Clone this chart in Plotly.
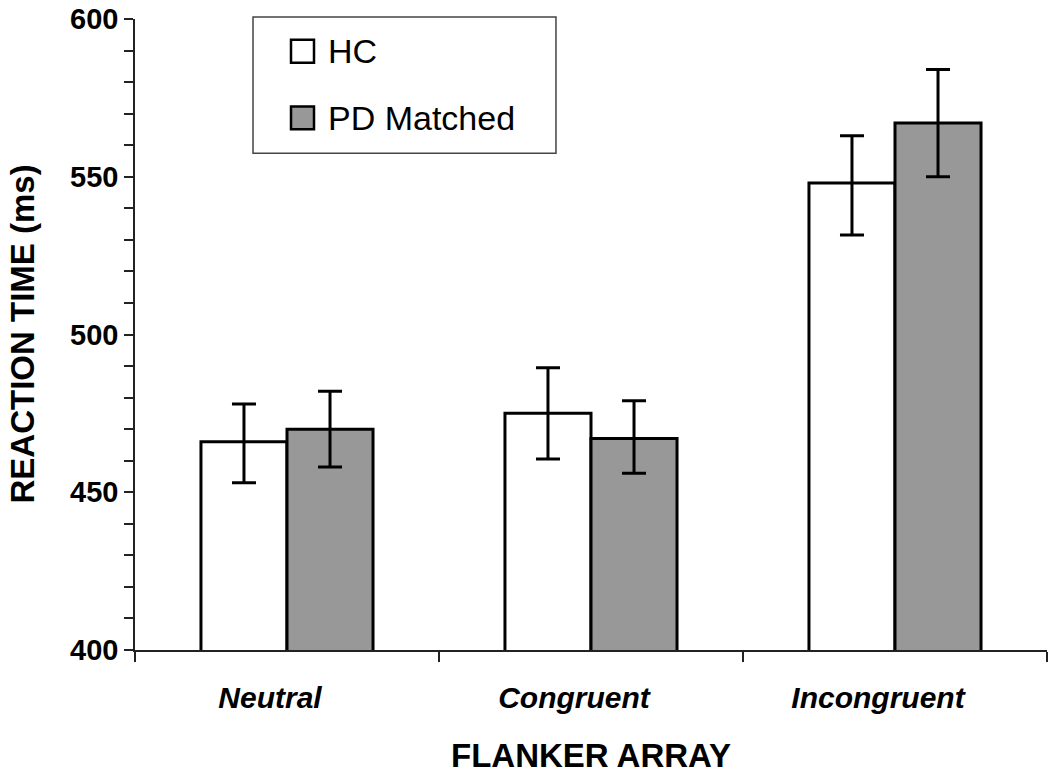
import plotly.graph_objects as go

# ---- data ----
categories = ["Neutral", "Congruent", "Incongruent"]
hc_values = [466, 475, 548]
hc_err_plus = [12, 14.5, 15]
hc_err_minus = [13, 14.5, 16.5]
pd_values = [470, 467, 567]
pd_err_plus = [12, 12, 17]
pd_err_minus = [12, 11, 17]
series_names = ["HC", "PD Matched"]
y_ticks = [400, 450, 500, 550, 600]

FONT = "Liberation Sans, Arial, sans-serif"
GRAY = "#989898"

fig = go.Figure()
fig.add_trace(go.Bar(
    name=series_names[0], x=categories, y=hc_values,
    marker=dict(color="white", line=dict(color="black", width=3)),
    error_y=dict(type="data", symmetric=False, array=hc_err_plus,
                 arrayminus=hc_err_minus, color="black", thickness=3, width=12),
    showlegend=False,
))
fig.add_trace(go.Bar(
    name=series_names[1], x=categories, y=pd_values,
    marker=dict(color=GRAY, line=dict(color="black", width=3)),
    error_y=dict(type="data", symmetric=False, array=pd_err_plus,
                 arrayminus=pd_err_minus, color="black", thickness=3, width=12),
    showlegend=False,
))

# ---- manual legend (box, swatches, labels) ----
fig.add_shape(type="rect", xref="paper", yref="paper",
              x0=0.1294, x1=0.4616, y0=0.7874, y1=1.0031,
              line=dict(color="#444444", width=1.5), fillcolor="white", layer="above")
sw = [(series_names[0], "white", 36), (series_names[1], GRAY, 103)]
for name, col, top in sw:
    y1 = (650 - top) / 635
    y0 = (650 - (top + 23)) / 635
    fig.add_shape(type="rect", xref="paper", yref="paper",
                  x0=(291 - 135) / 912, x1=(314 - 135) / 912, y0=y0, y1=y1,
                  line=dict(color="black", width=2.5), fillcolor=col, layer="above")
    fig.add_annotation(xref="paper", yref="paper",
                       x=(326 - 135) / 912, y=(y0 + y1) / 2,
                       xanchor="left", yanchor="middle", showarrow=False,
                       text=name, font=dict(family=FONT, size=34, color="black"))

# ---- axis titles ----
fig.add_annotation(xref="paper", yref="paper", x=(22 - 135) / 912, y=0.5,
                   xanchor="center", yanchor="middle", textangle=-90, showarrow=False,
                   text="REACTION TIME (ms)",
                   font=dict(family=FONT, size=33, color="black", weight="bold"))
fig.add_annotation(xref="paper", yref="paper", x=0.5, y=(650 - 756) / 635,
                   xanchor="center", yanchor="middle", showarrow=False,
                   text="FLANKER ARRAY",
                   font=dict(family=FONT, size=33, color="black", weight="bold"))

fig.update_layout(
    width=1050, height=773,
    margin=dict(l=135, r=3, t=15, b=123),
    paper_bgcolor="white", plot_bgcolor="white",
    barmode="group", bargap=0.434, bargroupgap=0,
    font=dict(family=FONT, color="black"),
)
fig.update_xaxes(
    type="category", range=[-0.5, 2.5],
    showline=True, linecolor="#222222", linewidth=1.5,
    ticks="outside", tickson="boundaries", ticklen=10, tickwidth=1.5, tickcolor="#222222",
    tickfont=dict(family=FONT, size=30, color="black", weight="bold", style="italic"),
    ticklabelstandoff=20, ticklabelshift=-17,
    showgrid=False, zeroline=False,
)
fig.update_yaxes(
    range=[400, 600], tickmode="array", tickvals=y_ticks, ticktext=[str(v) for v in y_ticks],
    showline=True, linecolor="#222222", linewidth=1.5,
    ticks="outside", ticklen=9, tickwidth=1.5, tickcolor="#222222",
    minor=dict(dtick=10, ticks="outside", ticklen=9, tickwidth=1.5, tickcolor="#222222", showgrid=False),
    tickfont=dict(family=FONT, size=29, color="black", weight="bold"),
    ticklabeloverflow="allow",
    showgrid=False, zeroline=False,
)

fig.write_html("out.html", config={"displayModeBar": False})

# remove the default page margin so the figure sits at the window's corner
with open("out.html", "r", encoding="utf-8") as f:
    html = f.read()
html = html.replace("<body>", '<body style="margin:0;overflow:hidden">', 1)
with open("out.html", "w", encoding="utf-8") as f:
    f.write(html)
